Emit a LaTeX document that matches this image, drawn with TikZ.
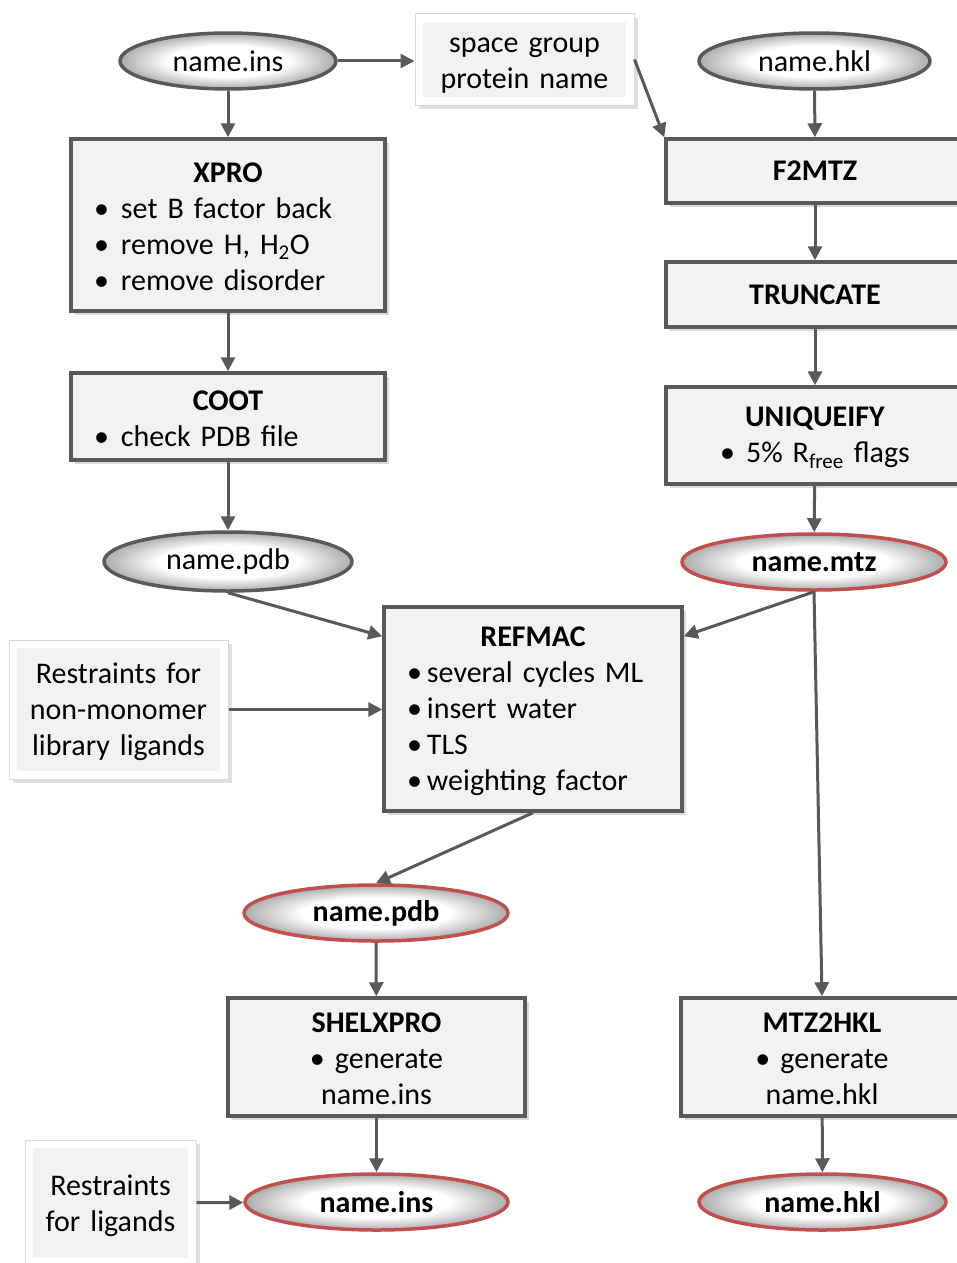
\documentclass[tikz,border=0pt]{standalone}
\usepackage{fontspec}
\setmainfont{Carlito}
\usetikzlibrary{positioning}
\usetikzlibrary{arrows.meta}
\usetikzlibrary{shapes.geometric}
\usetikzlibrary{shadows}
\usetikzlibrary{calc}
\definecolor{linegray}{HTML}{595959}
\definecolor{boxgray}{HTML}{F2F2F2}
\definecolor{redline}{HTML}{C0504D}
\pgfdeclareradialshading{fileshade}{\pgfpoint{0bp}{0bp}}{color(0bp)=(white); color(14bp)=(white); color(25bp)=(gray!65); color(50bp)=(gray!65)}
\newcommand{\bigfont}{\fontsize{30}{36}\selectfont}
\newcommand{\topstrut}[1][24pt]{\rule{0pt}{#1}}
\newcommand{\lbul}[2][27pt]{\makebox[\hsize][l]{\hspace*{23pt}\makebox[#1][l]{•}#2}}
\tikzstyle{file} = [ellipse, draw=linegray, line width=3.5pt, shading=fileshade, inner sep=0, font=\bigfont]
\tikzstyle{result} = [file, draw=redline, font=\bigfont\bfseries]
\tikzstyle{prog} = [rectangle, draw=linegray, line width=3.5pt, fill=boxgray, inner xsep=0, inner ysep=0, align=center, font=\bigfont, drop shadow={shadow xshift=4pt, shadow yshift=-4pt, opacity=0.3}]
\tikzstyle{note} = [rectangle, draw=gray!30, line width=1pt, fill=white, inner xsep=0, inner ysep=0, align=center, font=\bigfont, drop shadow={shadow xshift=4pt, shadow yshift=-4pt, opacity=0.25}, path picture={\fill[boxgray] ($(path picture bounding box.south west)+(8pt,8pt)$) rectangle ($(path picture bounding box.north east)+(-8pt,-8pt)$);}]
\tikzstyle{flow} = [-{Triangle[length=14pt,width=14pt]}, draw=linegray, line width=3pt]
\begin{document}
\begin{tikzpicture}[x=1pt,y=-1pt]
	\useasboundingbox (0,0) rectangle (957,1263);
	\clip (0,0) rectangle (957,1263);

	% input files
	\node (insin) at(228,61) [file, minimum width=216, minimum height=56] {name.ins};
	\node (hklin) at(814.5,61) [file, minimum width=231, minimum height=56] {name.hkl};
	\node (sgbox) at(524.5,59.5) [note, text width=219, minimum height=91] {\topstrut[27pt]space group\\ protein name};

	% left column
	\node (xpro) at(228,225) [prog, text width=314, minimum height=172] {\topstrut\textbf{XPRO}\\ \lbul{set B factor back}\\ \lbul{remove H, H\textsubscript{2}O}\\ \lbul{remove disorder}};
	\node (coot) at(228,416.5) [prog, text width=314, minimum height=87] {\topstrut\textbf{COOT}\\ \lbul{check PDB file}};
	\node (pdbin) at(228,561.5) [file, minimum width=248, minimum height=59] {name.pdb};

	% right column
	\node (f2mtz) at(815,171) [prog, text width=298, minimum height=64] {\textbf{F2MTZ}};
	\node (truncate) at(815,294.5) [prog, text width=298, minimum height=65] {\textbf{TRUNCATE}};
	\node (uniq) at(815,435.5) [prog, text width=298, minimum height=97] {\topstrut\textbf{UNIQUEIFY}\\ \makebox[26pt][l]{•}5\% R\textsubscript{free} flags};
	\node (mtz) at(814,562) [result, minimum width=264, minimum height=56] {name.mtz};

	% refinement
	\node (refmac) at(533,709) [prog, text width=298, minimum height=204] {\topstrut\textbf{REFMAC}\\ \lbul[20pt]{several cycles ML}\\ \lbul[20pt]{insert water}\\ \lbul[20pt]{TLS}\\ \lbul[20pt]{weighting factor}};
	\node (restr) at(118.5,709.5) [note, text width=219, minimum height=139] {\topstrut[26pt]Restraints for\\ non-monomer\\ library ligands};
	\node (pdbout) at(376,913) [result, minimum width=264, minimum height=56] {name.pdb};

	% output
	\node (shelxpro) at(376.5,1057) [prog, text width=297, minimum height=118] {\topstrut\textbf{SHELXPRO}\\ \makebox[25pt][l]{•}generate\\ name.ins};
	\node (mtz2hkl) at(822,1057) [prog, text width=282, minimum height=118] {\topstrut\textbf{MTZ2HKL}\\ \makebox[25pt][l]{•}generate\\ name.hkl};
	\node (insout) at(376.5,1202) [result, minimum width=263, minimum height=56] {name.ins};
	\node (hklout) at(822.5,1202) [result, minimum width=247, minimum height=56] {name.hkl};
	\node (lig) at(110.5,1203) [note, text width=171, minimum height=126] {\topstrut[26pt]Restraints\\ for ligands};

	\draw[flow] (insin) -- (xpro);
	\draw[flow] (insin.east) -- (insin.east -| sgbox.west);
	\draw[flow] (sgbox.east) -- (f2mtz.north west);
	\draw[flow] (hklin) -- (f2mtz);
	\draw[flow] (f2mtz) -- (truncate);
	\draw[flow] (truncate) -- (uniq);
	\draw[flow] (uniq) -- (mtz);

	\draw[flow] (xpro) -- (coot);
	\draw[flow] (coot) -- (pdbin);
	\draw[flow] (pdbin.south) -- ([yshift=-31pt]refmac.north west);
	\draw[flow] (mtz.south) -- ([yshift=-31pt]refmac.north east);
	\draw[flow] (mtz.south) -- (mtz2hkl.north);
	\draw[flow] (restr.east) -- (restr.east -| refmac.west);
	\draw[flow] (refmac.south) -- (pdbout.north);

	\draw[flow] (pdbout) -- (shelxpro);
	\draw[flow] (shelxpro) -- (insout);
	\draw[flow] (mtz2hkl) -- (hklout);
	\draw[flow] (lig) -- (insout);
\end{tikzpicture}
\end{document}
